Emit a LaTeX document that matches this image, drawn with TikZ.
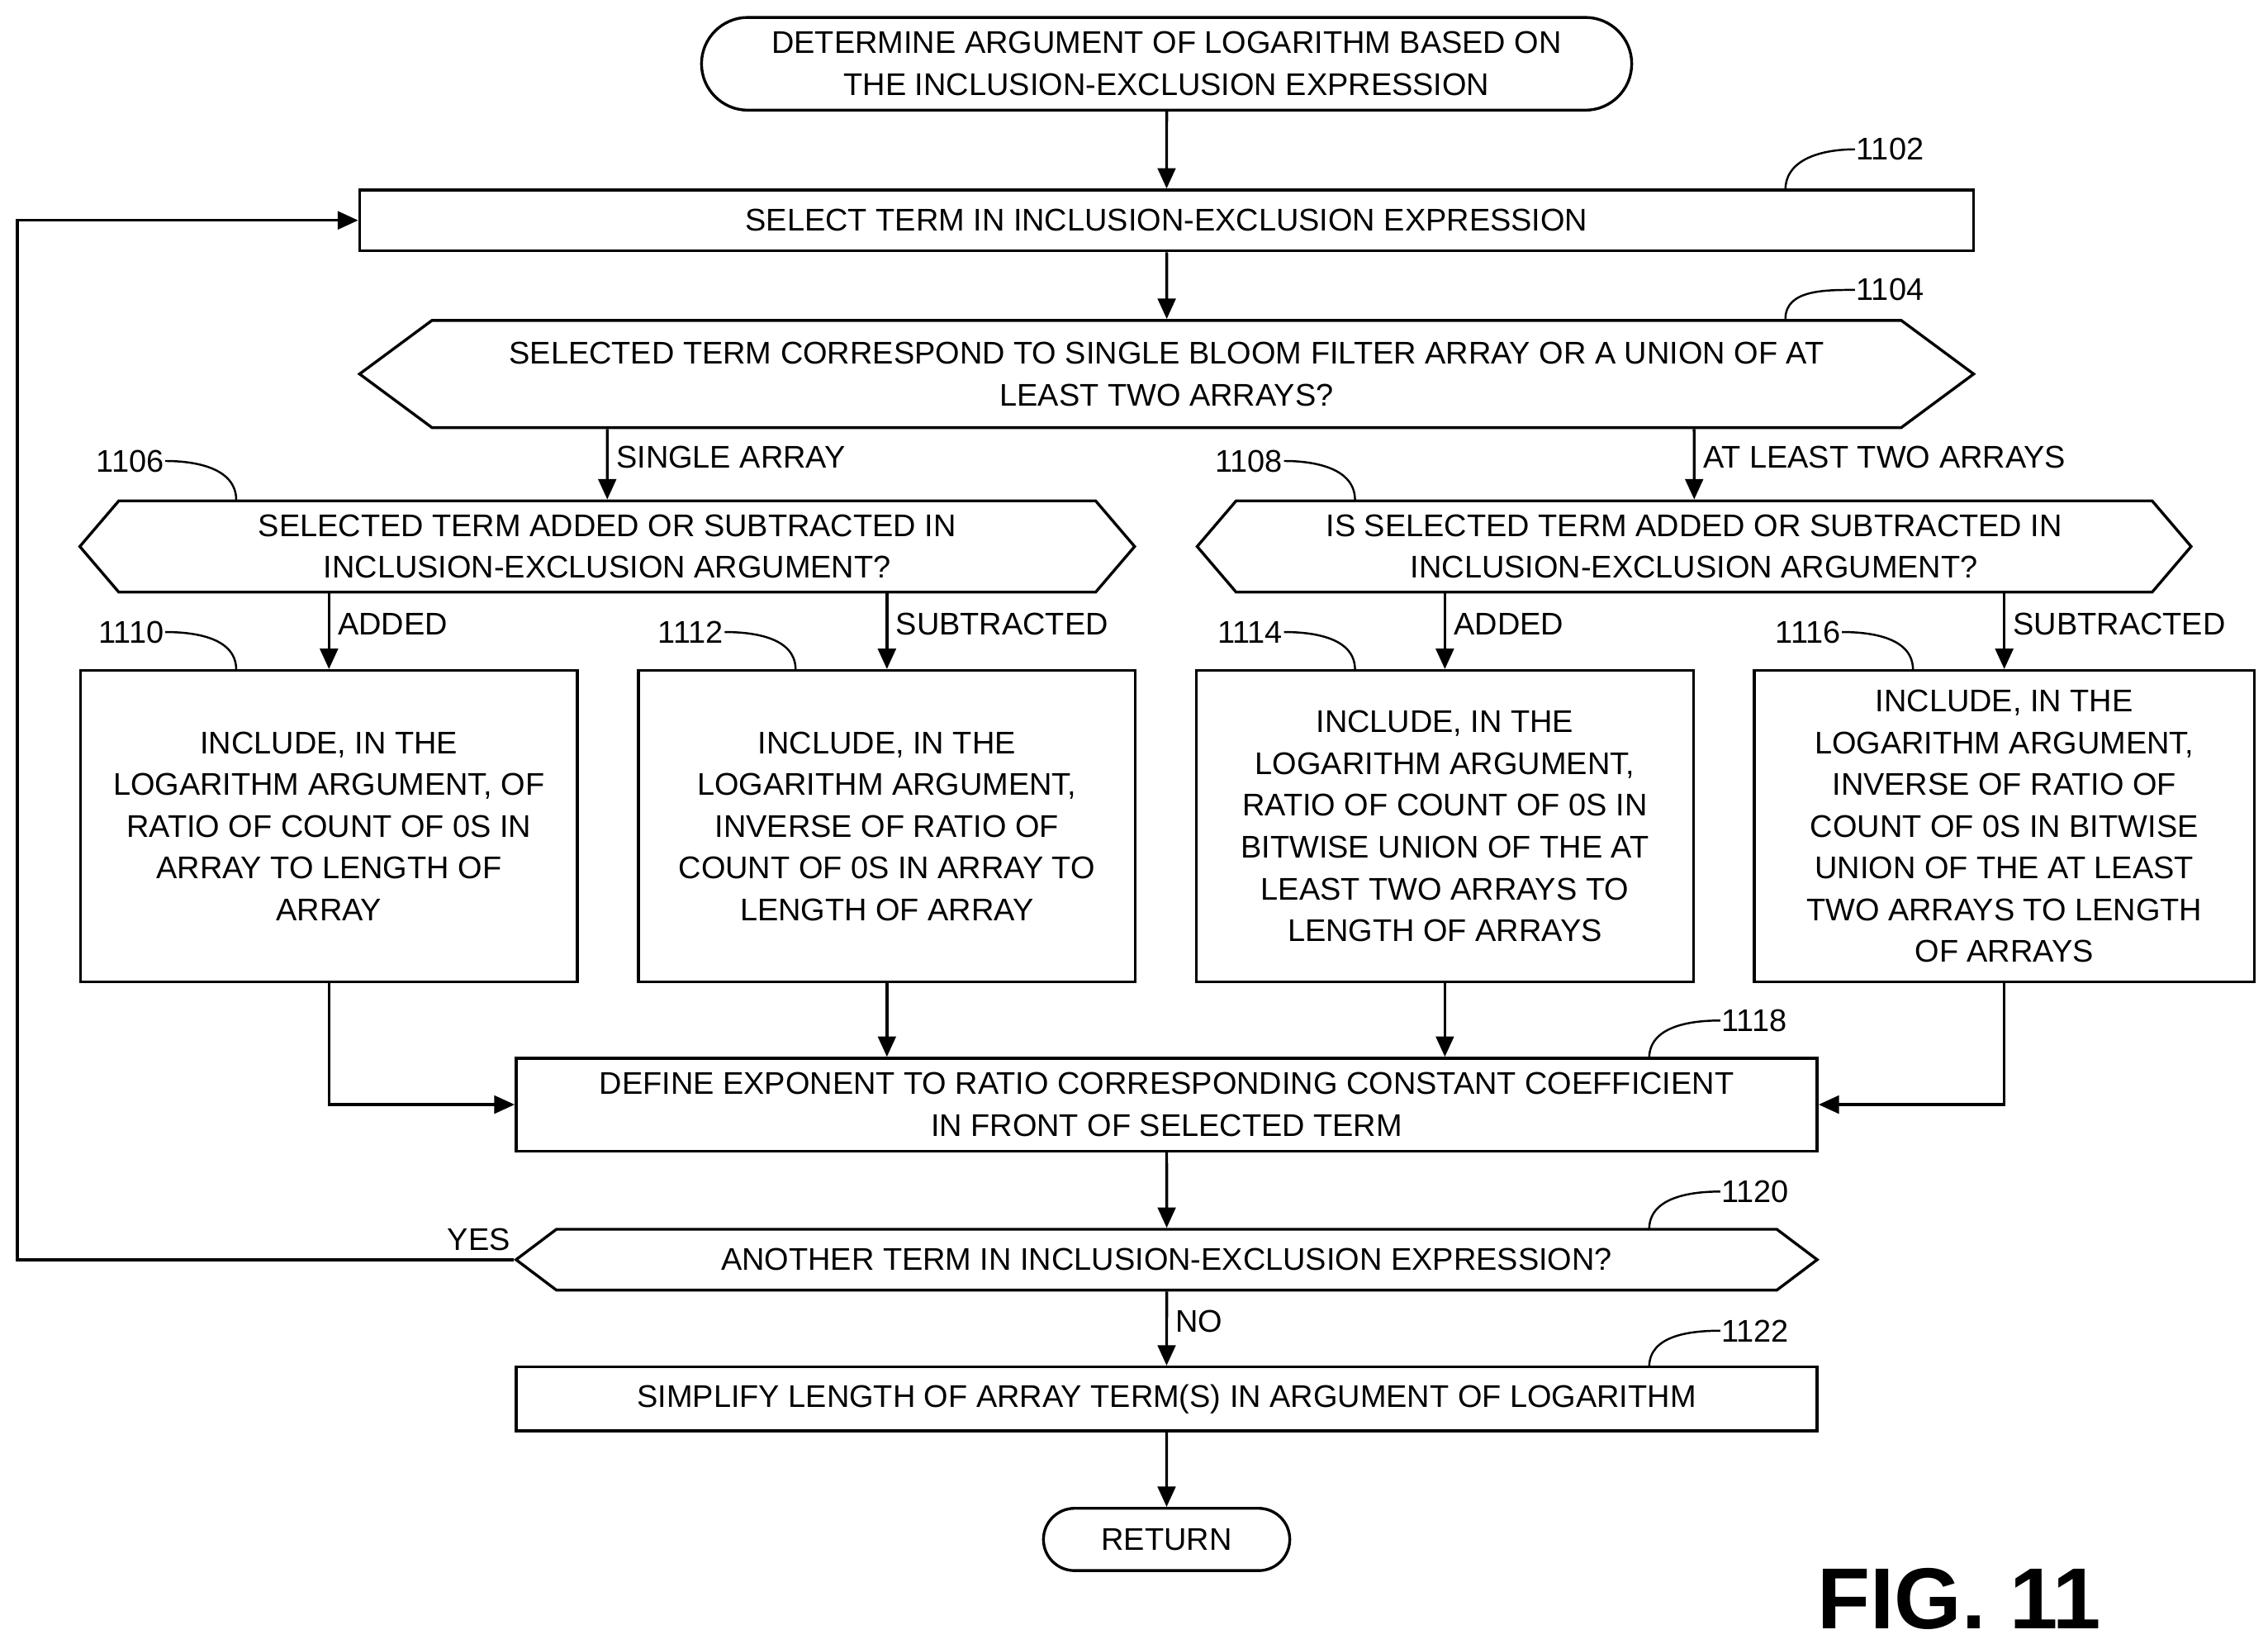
\documentclass[tikz,border=0pt]{standalone}
\usepackage{fontspec}
\setmainfont{Liberation Sans}
\usetikzlibrary{positioning,shapes.symbols,shapes.misc,arrows.meta}

\begin{document}
\begin{tikzpicture}[x=0.02cm,y=-0.02cm,line width=1.1pt,
  font=\fontsize{12.3}{16.4}\selectfont,
  every node/.style={inner sep=0pt,align=center},
  box/.style={draw,rectangle},
  term/.style={draw,rounded rectangle},
  hex/.style={draw,signal,signal to=west and east},
  arr/.style={-{Triangle[length=8pt,width=7pt]}},
  lbl/.style={anchor=west,font=\fontsize{12.3}{14}\selectfont},
  tag/.style={font=\fontsize{12.3}{14}\selectfont}]
  \useasboundingbox (0,0) rectangle (1565,1134);

  \node[term,minimum width=12.84cm,minimum height=1.28cm] (start) at (805,44)
    {DETERMINE ARGUMENT OF LOGARITHM BASED ON\\THE INCLUSION-EXCLUSION EXPRESSION};
  \node[box,minimum width=22.28cm,minimum height=0.84cm] (n1102) at (805,152)
    {SELECT TERM IN INCLUSION-EXCLUSION EXPRESSION};
  \node[hex,signal pointer angle=73,minimum width=22.28cm,minimum height=1.48cm] (n1104) at (805,258)
    {SELECTED TERM CORRESPOND TO SINGLE BLOOM FILTER ARRAY OR A UNION OF AT\\LEAST TWO ARRAYS?};
  \node[hex,signal pointer angle=99,minimum width=14.56cm,minimum height=1.26cm] (n1106) at (419,377)
    {SELECTED TERM ADDED OR SUBTRACTED IN\\INCLUSION-EXCLUSION ARGUMENT?};
  \node[hex,signal pointer angle=99,minimum width=13.72cm,minimum height=1.26cm] (n1108) at (1169,377)
    {IS SELECTED TERM ADDED OR SUBTRACTED IN\\INCLUSION-EXCLUSION ARGUMENT?};

  \node[box,minimum width=6.86cm,minimum height=4.3cm] (n1110) at (227,570)
    {INCLUDE, IN THE\\LOGARITHM ARGUMENT, OF\\RATIO OF COUNT OF 0S IN\\ARRAY TO LENGTH OF\\ARRAY};
  \node[box,minimum width=6.86cm,minimum height=4.3cm] (n1112) at (612,570)
    {INCLUDE, IN THE\\LOGARITHM ARGUMENT,\\INVERSE OF RATIO OF\\COUNT OF 0S IN ARRAY TO\\LENGTH OF ARRAY};
  \node[box,minimum width=6.86cm,minimum height=4.3cm] (n1114) at (997,570)
    {INCLUDE, IN THE\\LOGARITHM ARGUMENT,\\RATIO OF COUNT OF 0S IN\\BITWISE UNION OF THE AT\\LEAST TWO ARRAYS TO\\LENGTH OF ARRAYS};
  \node[box,minimum width=6.9cm,minimum height=4.3cm] (n1116) at (1383,570)
    {INCLUDE, IN THE\\LOGARITHM ARGUMENT,\\INVERSE OF RATIO OF\\COUNT OF 0S IN BITWISE\\UNION OF THE AT LEAST\\TWO ARRAYS TO LENGTH\\OF ARRAYS};

  \node[box,minimum width=17.96cm,minimum height=1.28cm] (n1118) at (805,762)
    {DEFINE EXPONENT TO RATIO CORRESPONDING CONSTANT COEFFICIENT\\IN FRONT OF SELECTED TERM};
  \node[hex,signal pointer angle=74,minimum width=17.96cm,minimum height=0.84cm] (n1120) at (805,869)
    {ANOTHER TERM IN INCLUSION-EXCLUSION EXPRESSION?};
  \node[box,minimum width=17.96cm,minimum height=0.88cm] (n1122) at (805,965)
    {SIMPLIFY LENGTH OF ARRAY TERM(S) IN ARGUMENT OF LOGARITHM};
  \node[term,minimum width=3.4cm,minimum height=0.86cm] (ret) at (805,1062) {RETURN};

  \node[font=\bfseries\fontsize{34}{34}\selectfont] (fig) at (1352,1103) {FIG. 11};

  % flow
  \draw[arr] (start) -- (n1102);
  \draw[arr] (n1102) -- (n1104);
  \draw[arr] (n1104.south -| n1106) -- node[lbl,pos=0.4,xshift=3pt]{SINGLE ARRAY} (n1106);
  \draw[arr] (n1104.south -| n1108) -- node[lbl,pos=0.4,xshift=3pt]{AT LEAST TWO ARRAYS} (n1108);
  \draw[arr] (n1106.south -| n1110) -- node[lbl,pos=0.4,xshift=3pt]{ADDED} (n1110);
  \draw[arr] (n1106.south -| n1112) -- node[lbl,pos=0.4,xshift=3pt]{SUBTRACTED} (n1112);
  \draw[arr] (n1108.south -| n1114) -- node[lbl,pos=0.4,xshift=3pt]{ADDED} (n1114);
  \draw[arr] (n1108.south -| n1116) -- node[lbl,pos=0.4,xshift=3pt]{SUBTRACTED} (n1116);
  \draw[arr] (n1110) |- (n1118);
  \draw[arr] (n1112) -- (n1112 |- n1118.north);
  \draw[arr] (n1114) -- (n1114 |- n1118.north);
  \draw[arr] (n1116) |- (n1118);
  \draw[arr] (n1118) -- (n1120);
  \coordinate (loop) at (12,869);
  \draw[arr] (n1120.west) -- node[above=3pt,pos=0.07]{YES} (loop) |- (n1102);
  \draw[arr] (n1120) -- node[lbl,pos=0.4,xshift=3pt]{NO} (n1122);
  \draw[arr] (n1122) -- (ret);

  % reference numerals
  \tikzset{lead/.style={line width=0.8pt}}
  \node[tag,anchor=west] (t1102) at (1280,103) {1102};
  \draw[lead] (1232,131) to[out=90,in=180] (t1102.west);
  \node[tag,anchor=west] (t1104) at (1280,200) {1104};
  \draw[lead] (1232,220) to[out=90,in=180] (t1104.west);
  \node[tag,anchor=east] (t1106) at (114,318) {1106};
  \draw[lead] (t1106.east) to[out=0,in=90] (163,345);
  \node[tag,anchor=east] (t1108) at (886,318) {1108};
  \draw[lead] (t1108.east) to[out=0,in=90] (935,345);
  \node[tag,anchor=east] (t1110) at (114,436) {1110};
  \draw[lead] (t1110.east) to[out=0,in=90] (163,462);
  \node[tag,anchor=east] (t1112) at (500,436) {1112};
  \draw[lead] (t1112.east) to[out=0,in=90] (549,462);
  \node[tag,anchor=east] (t1114) at (886,436) {1114};
  \draw[lead] (t1114.east) to[out=0,in=90] (935,462);
  \node[tag,anchor=east] (t1116) at (1271,436) {1116};
  \draw[lead] (t1116.east) to[out=0,in=90] (1320,462);
  \node[tag,anchor=west] (t1118) at (1187,704) {1118};
  \draw[lead] (1138,730) to[out=90,in=180] (t1118.west);
  \node[tag,anchor=west] (t1120) at (1187,822) {1120};
  \draw[lead] (1138,848) to[out=90,in=180] (t1120.west);
  \node[tag,anchor=west] (t1122) at (1187,918) {1122};
  \draw[lead] (1138,943) to[out=90,in=180] (t1122.west);
\end{tikzpicture}
\end{document}
